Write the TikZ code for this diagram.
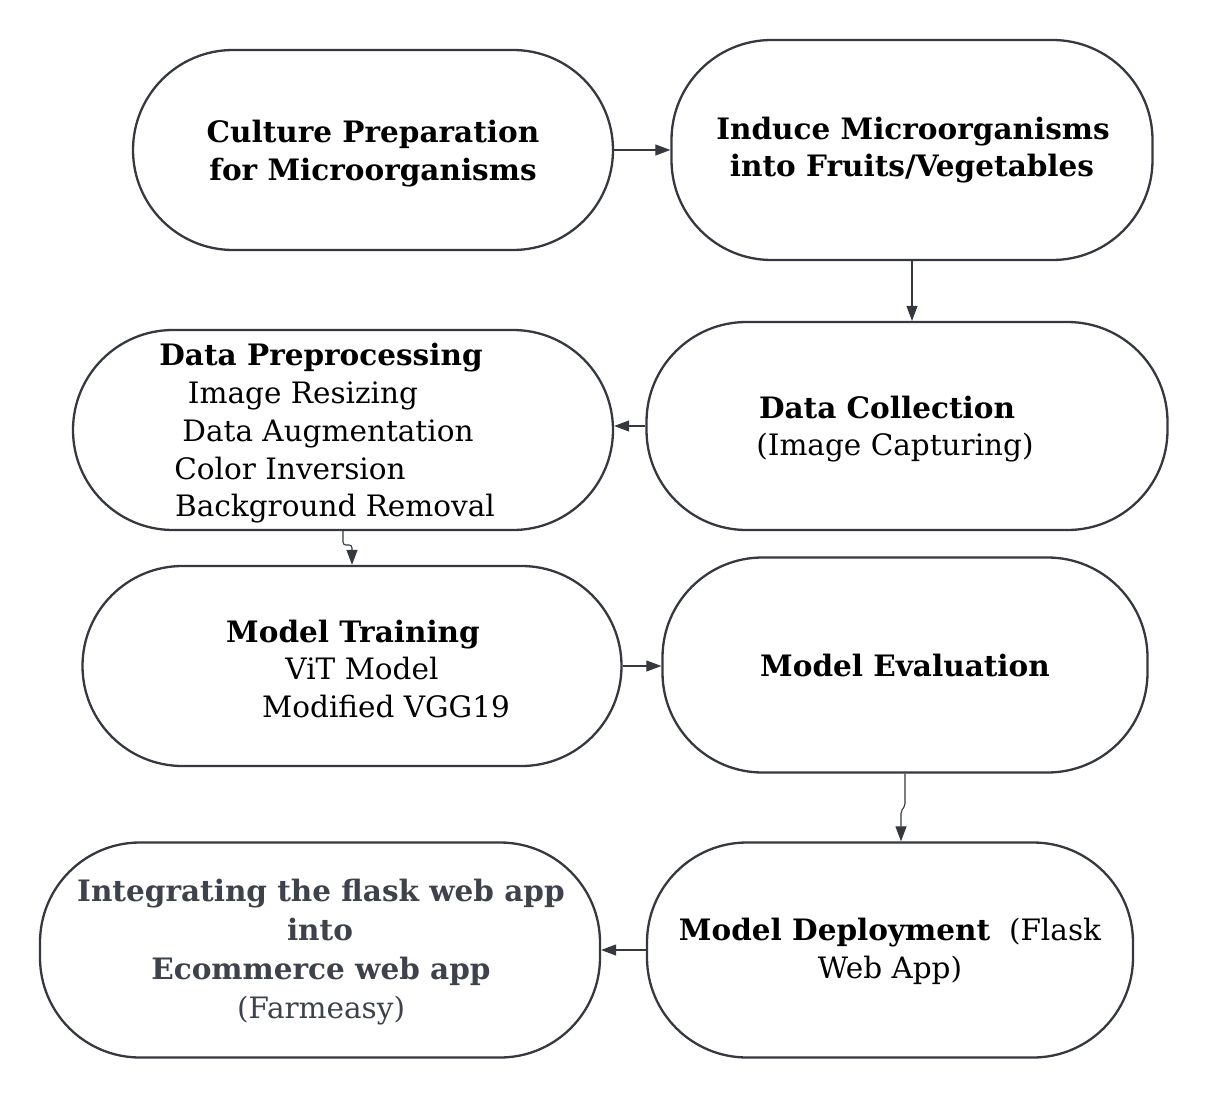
\documentclass[tikz,border=0pt]{standalone}
\usepackage{fontspec}
\setmainfont{DejaVu Serif}
\usetikzlibrary{arrows.meta}
\definecolor{ln}{HTML}{35383F}
\definecolor{gtxt}{HTML}{3D424B}
\tikzset{
  box/.style={draw=ln, line width=2.3pt, rounded corners=100pt, fill=white, inner sep=0pt},
  arr/.style={draw=ln, line width=1.1pt, -{Triangle[length=15pt,width=11pt]}},
  tx/.style={anchor=base, inner sep=0pt, font=\fontsize{29.5}{34}\selectfont},
  tb/.style={tx, font=\fontsize{29.5}{34}\selectfont\bfseries},
}
\begin{document}
\begin{tikzpicture}[x=1pt,y=-1pt]
\useasboundingbox (0,0) rectangle (1219,1097);
% boxes
\node[box, minimum width=480pt, minimum height=200pt] (n1) at (373,150) {};
\node[box, minimum width=481pt, minimum height=220pt] (n2) at (912,150) {};
\node[box, minimum width=521pt, minimum height=208pt] (n3) at (907,426) {};
\node[box, minimum width=540pt, minimum height=200pt] (n4) at (343,430) {};
\node[box, minimum width=539pt, minimum height=200pt] (n5) at (352,666) {};
\node[box, minimum width=485pt, minimum height=215pt] (n6) at (905,665) {};
\node[box, minimum width=486pt, minimum height=215pt] (n7) at (890,950) {};
\node[box, minimum width=560pt, minimum height=215pt] (n8) at (320,950) {};
% texts
\node[tb] (t1a) at (373,143) {Culture Preparation};
\node[tb] (t1b) at (373,181) {for Microorganisms};
\node[tb] (t2a) at (913,140) {Induce Microorganisms};
\node[tb] (t2b) at (912,177) {into Fruits/Vegetables};
\node[tb] (t3a) at (887,418) {Data Collection};
\node[tx] (t3b) at (895,455) {(Image Capturing)};
\node[tb] (t4a) at (321,365) {Data Preprocessing};
\node[tx] (t4b) at (303,403) {Image Resizing};
\node[tx] (t4c) at (328,441) {Data Augmentation};
\node[tx] (t4d) at (290,479) {Color Inversion};
\node[tx] (t4e) at (335,516) {Background Removal};
\node[tb] (t5a) at (353,642) {Model Training};
\node[tx] (t5b) at (362,679) {ViT Model};
\node[tx] (t5c) at (386,717) {Modified VGG19};
\node[tb] (t6a) at (905,676) {Model Evaluation};
\node[tx] (t7a) at (890,940) {\textbf{Model Deployment}\ \ (Flask};
\node[tx] (t7b) at (890,978) {Web App)};
\node[tb, text=gtxt] (t8a) at (321,901) {Integrating the flask web app};
\node[tb, text=gtxt] (t8b) at (320,940) {into};
\node[tb, text=gtxt] (t8c) at (321,979) {Ecommerce web app};
\node[tx, text=gtxt] (t8d) at (321,1018) {(Farmeasy)};
% connectors
\draw[arr] (n1.east) -- (n2.west |- n1.east);
\draw[arr] (n2.south) -- (n2.south |- n3.north);
\draw[arr] (n3.west) -- (n3.west -| n4.east);
\draw[arr, rounded corners=3pt] (n4.south) -- ++(0,14) -- ([shift={(0,-20)}]n5.north) -- (n5.north);
\draw[arr] (n5.east) -- (n5.east -| n6.west);
\draw[arr, rounded corners=2pt] (n6.south) -- ++(0,32) -- ([shift={(11,-30)}]n7.north) -- ([xshift=11pt]n7.north);
\draw[arr] (n7.west) -- (n7.west -| n8.east);
\end{tikzpicture}
\end{document}
